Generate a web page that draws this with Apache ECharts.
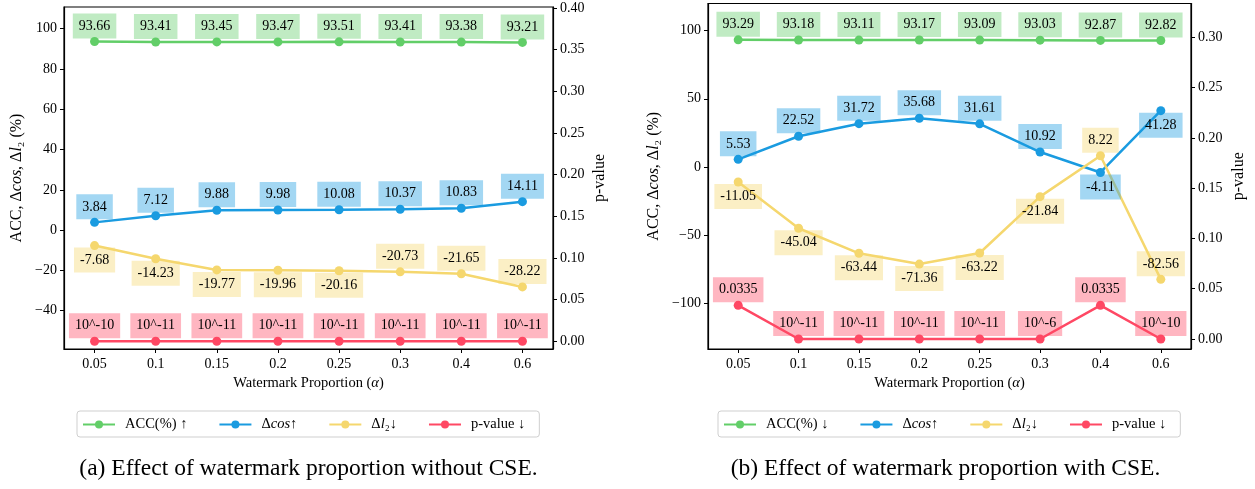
<!DOCTYPE html>
<html><head><meta charset="utf-8">
<script src="https://cdn.jsdelivr.net/npm/echarts@6/dist/echarts.min.js"></script>
<style>html,body{margin:0;padding:0;background:#fff}#c{width:1255px;height:489px}</style>
</head><body><div id="c"></div>
<script>
// ---------- data ----------
const categories = ['0.05','0.1','0.15','0.2','0.25','0.3','0.4','0.6'];
const accA = [93.66,93.41,93.45,93.47,93.51,93.41,93.38,93.21];
const cosA = [3.84,7.12,9.88,9.98,10.08,10.37,10.83,14.11];
const l2A  = [-7.68,-14.23,-19.77,-19.96,-20.16,-20.73,-21.65,-28.22];
const pA   = [1e-10,1e-11,1e-11,1e-11,1e-11,1e-11,1e-11,1e-11];
const accB = [93.29,93.18,93.11,93.17,93.09,93.03,92.87,92.82];
const cosB = [5.53,22.52,31.72,35.68,31.61,10.92,-4.11,41.28];
const l2B  = [-11.05,-45.04,-63.44,-71.36,-63.22,-21.84,8.22,-82.56];
const pB   = [0.0335,1e-11,1e-11,1e-11,1e-11,1e-6,0.0335,1e-10];
const leftTicksA  = [-40,-20,0,20,40,60,80,100];
const rightTicksA = [0,0.05,0.10,0.15,0.20,0.25,0.30,0.35,0.40];
const leftTicksB  = [-100,-50,0,50,100];
const rightTicksB = [0,0.05,0.10,0.15,0.20,0.25,0.30];
const namesA = ['ACC(%) ↑','Δcos↑','Δl₂↓','p-value ↓'];
const namesB = ['ACC(%) ↓','Δcos↑','Δl₂↓','p-value ↓'];
const captionA = '(a) Effect of watermark proportion without CSE.';
const captionB = '(b) Effect of watermark proportion with CSE.';

// ---------- label placement (styling, not data) ----------
const belowL2A  = [1,1,1,1,1,0,0,0];
const belowCosB = [0,0,0,0,0,0,1,1];
const belowL2B  = [1,1,1,1,1,1,0,0];

const FONT = 'Liberation Serif, Times New Roman, serif';
const C = {acc:'#62CE68', cos:'#1A9BE0', l2:'#F5D76E', p:'#FF4864'};
function rgba(hex,a){const n=parseInt(hex.slice(1),16);return `rgba(${n>>16},${(n>>8)&255},${n&255},${a})`;}

function fmtVal(v){return v.toFixed(2);}
function fmtP(v){return v < 0.001 ? '10^' + Math.round(Math.log10(v)) : String(v);}

function mk(name, data, color, gi, yi, below, isP){
  return {
    type:'line', name, xAxisIndex: gi, yAxisIndex: yi,
    symbol:'circle', symbolSize:9, showAllSymbol:true,
    lineStyle:{color, width:2.5}, itemStyle:{color},
    label:{show:true, fontFamily:FONT, fontSize:14, color:'#000',
      backgroundColor: rgba(color,0.4), padding:[5.5,6,5.5,6], lineHeight:14,
      formatter: p => isP ? fmtP(p.value) : fmtVal(p.value)},
    emphasis:{disabled:true},
    data: data.map((v,i)=>{
      const b = below && below[i];
      return {value:v, label:{position: b ? 'bottom':'top', distance: b ? -2.5 : -1.5}};
    })
  };
}

function leftFmt(v){return v < 0 ? '\u2212' + Math.abs(v) : String(v);}
function rightFmt(v){return v.toFixed(2);}

const axisCommon = {
  axisLine:{show:true, onZero:false, lineStyle:{color:'#000', width:1.2}},
  splitLine:{show:false}
};
const YN = 16;
const yNameRich = {i:{fontStyle:'italic', fontFamily:FONT, fontSize:YN, color:'#000'}};
function yAx(pos, min, max, ticks, fmt, gi, name, gap){
  return Object.assign({}, JSON.parse(JSON.stringify(axisCommon)), {
    type:'value', gridIndex:gi, position:pos, min, max,
    axisTick:{show:true, inside:false, length:4, customValues:ticks, lineStyle:{color:'#000', width:1}},
    axisLabel:{customValues:ticks, formatter:fmt, fontFamily:FONT, fontSize:14, color:'#000', margin:7},
    name, nameLocation:'middle', nameRotate:90, nameGap:gap,
    nameTextStyle:{fontFamily:FONT, fontSize:YN, color:'#000', rich:yNameRich}
  });
}
function xAx(gi){
  return Object.assign({}, JSON.parse(JSON.stringify(axisCommon)), {
    type:'category', gridIndex:gi, data:categories, boundaryGap:true,
    axisTick:{show:true, inside:false, length:4, alignWithLabel:true, lineStyle:{color:'#000', width:1}},
    axisLabel:{fontFamily:FONT, fontSize:14, color:'#000', margin:8},
    name:'Watermark Proportion ({i|α})', nameLocation:'middle', nameGap:26,
    nameTextStyle:{fontFamily:FONT, fontSize:14.5, color:'#000', rich:{i:{fontStyle:'italic', fontFamily:FONT, fontSize:14.5, color:'#000'}}}
  });
}
const yName = 'ACC, Δ{i|cos}, Δ{i|l}₂ (%)';

function legend(names, left){
  return {
    data:names, left, top:411, orient:'horizontal',
    backgroundColor:'#fff', borderColor:'#cfcfcf', borderWidth:1, borderRadius:3,
    padding:[6,14,5,5], itemGap:31, itemWidth:32, itemHeight:10,
    textStyle:{fontFamily:FONT, fontSize:14.5, color:'#000', padding:[0,0,0,5],
      rich:{i:{fontStyle:'italic', fontFamily:FONT, fontSize:14.5, color:'#000'}}},
    formatter: n => n.replace('cos','{i|cos}').replace('l₂','{i|l}₂'),
    selectedMode:false
  };
}

const option = {
  animation:false,
  backgroundColor:'#fff',
  grid:[
    {left:64, right:702, top:7, bottom:140, show:true, borderColor:'#000', borderWidth:1.2, backgroundColor:'transparent'},
    {left:708, right:64, top:3.5, bottom:140, show:true, borderColor:'#000', borderWidth:1.2, backgroundColor:'transparent'}
  ],
  xAxis:[xAx(0), xAx(1)],
  yAxis:[
    yAx('left', -59.05, 110.8, leftTicksA, leftFmt, 0, yName, 39),
    yAx('right', -0.00925, 0.4012, rightTicksA, rightFmt, 0, 'p-value', 39),
    yAx('left', -133.7, 119.96, leftTicksB, leftFmt, 1, yName, 46),
    yAx('right', -0.00993, 0.3336, rightTicksB, rightFmt, 1, 'p-value', 40)
  ],
  legend:[legend(namesA, 77), legend(namesB, 718)],
  series:[
    mk(namesA[0], accA, C.acc, 0, 0, null, false),
    mk(namesA[1], cosA, C.cos, 0, 0, null, false),
    mk(namesA[2], l2A, C.l2, 0, 0, belowL2A, false),
    mk(namesA[3], pA, C.p, 0, 1, null, true),
    mk(namesB[0], accB, C.acc, 1, 2, null, false),
    mk(namesB[1], cosB, C.cos, 1, 2, belowCosB, false),
    mk(namesB[2], l2B, C.l2, 1, 2, belowL2B, false),
    mk(namesB[3], pB, C.p, 1, 3, null, true)
  ],
  graphic:[
    {type:'text', x:308.5, y:469, style:{text:captionA, fontFamily:FONT, fontSize:23.5, fill:'#000', align:'center', verticalAlign:'middle'}},
    {type:'text', x:945.5, y:469, style:{text:captionB, fontFamily:FONT, fontSize:23.5, fill:'#000', align:'center', verticalAlign:'middle'}}
  ]
};
const chart = echarts.init(document.getElementById('c'), null, {renderer:'canvas'});
chart.setOption(option);
</script></body></html>
